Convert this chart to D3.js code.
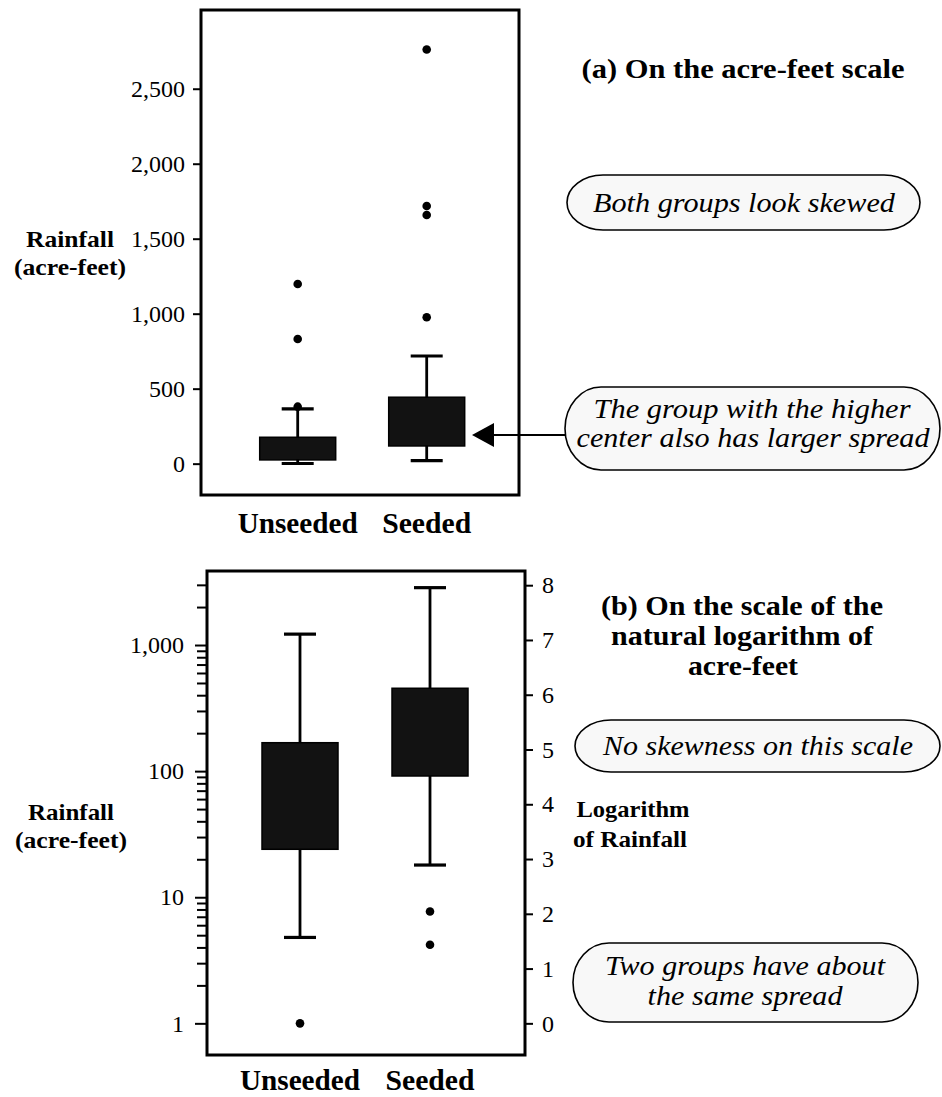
<!DOCTYPE html>
<html>
<head>
<meta charset="utf-8">
<script src="https://cdn.jsdelivr.net/npm/d3@7"></script>
<style>
  html, body { margin: 0; padding: 0; background: #fff; }
  svg { display: block; }
  svg text { font-family: 'Liberation Serif', 'Times New Roman', Times, serif; }
</style>
</head>
<body>
<svg id="chart" width="942" height="1097"></svg>
<script>
// ---------- data ----------
const groups = ["Unseeded", "Seeded"];

// (a) acre-feet scale
const acreLow = [1, 20];
const acreQ1 = [25, 118];
const acreQ3 = [176, 443];
const acreHigh = [365, 718];
const acreOutliers = [[380, 831, 1198], [976, 1658, 1718, 2762]];
const acreTicks = [0, 500, 1000, 1500, 2000, 2500];

// (b) log scale
const logLow = [4.8, 18];
const logQ1 = [24, 91.5];
const logQ3 = [168, 454];
const logHigh = [1220, 2850];
const logOutliers = [[1.0], [7.7, 4.2]];
const logTicks = [1, 10, 100, 1000];
const logMinorTicks = [2,3,4,5,6,7,8,9,20,30,40,50,60,70,80,90,200,300,400,500,600,700,800,900,2000,3000];
const lnTicks = [0, 1, 2, 3, 4, 5, 6, 7, 8];

// ---------- setup ----------
const svg = d3.select("#chart");
const BOX_W = 76, CAP_W = 32, DOT_R = 4.3, LW = 2.8;
const FILL = "#121212";

function drawBoxes(g, x, y, lo, q1, q3, hi, outs) {
  groups.forEach((grp, i) => {
    const cx = x(grp);
    g.append("line").attr("x1", cx).attr("x2", cx)
      .attr("y1", y(lo[i])).attr("y2", y(hi[i]))
      .attr("stroke", "#000").attr("stroke-width", LW);
    [lo[i], hi[i]].forEach(v => {
      g.append("line").attr("x1", cx - CAP_W / 2).attr("x2", cx + CAP_W / 2)
        .attr("y1", y(v)).attr("y2", y(v))
        .attr("stroke", "#000").attr("stroke-width", LW + 0.4);
    });
    g.append("rect").attr("x", cx - BOX_W / 2).attr("width", BOX_W)
      .attr("y", y(q3[i])).attr("height", y(q1[i]) - y(q3[i]))
      .attr("fill", FILL).attr("stroke", "#000").attr("stroke-width", 1.5);
    outs[i].forEach(v => {
      g.append("circle").attr("cx", cx).attr("cy", y(v)).attr("r", DOT_R).attr("fill", "#000");
    });
  });
}

function styleAxis(sel, size) {
  sel.select(".domain").remove();
  sel.selectAll(".tick line").attr("stroke", "#000").attr("stroke-width", 2);
  sel.selectAll(".tick text").attr("font-family", null).attr("font-size", size).attr("fill", "#000");
}

function frame(x0, y0, x1, y1) {
  svg.append("rect").attr("x", x0).attr("y", y0).attr("width", x1 - x0).attr("height", y1 - y0)
    .attr("fill", "none").attr("stroke", "#000").attr("stroke-width", 3);
}

function text(x, y, str, opts) {
  const t = svg.append("text").attr("x", x).attr("y", y).text(str)
    .attr("font-size", opts.size)
    .attr("text-anchor", opts.anchor || "middle")
    .attr("font-weight", opts.bold ? "bold" : "normal")
    .attr("font-style", opts.italic ? "italic" : "normal")
    .attr("fill", "#000");
  if (opts.len) t.attr("textLength", opts.len).attr("lengthAdjust", "spacingAndGlyphs");
  return t;
}

function callout(x0, y0, x1, y1) {
  const h = y1 - y0;
  svg.append("rect").attr("x", x0).attr("y", y0).attr("width", x1 - x0).attr("height", h)
    .attr("rx", 36).attr("ry", h / 2)
    .attr("fill", "#f8f8f8").attr("stroke", "#000").attr("stroke-width", 1.6);
}

// ---------- panel (a) ----------
const A = { left: 201, right: 519, top: 10, bottom: 495 };
const yA = d3.scaleLinear().domain([-209, 3025]).range([A.bottom, A.top]);
const xA = d3.scalePoint().domain(groups).range([297.7, 426.7]);

const gA = svg.append("g");
drawBoxes(gA, xA, yA, acreLow, acreQ1, acreQ3, acreHigh, acreOutliers);
frame(A.left, A.top, A.right, A.bottom);

const axA = svg.append("g").attr("transform", `translate(${A.left},0)`)
  .call(d3.axisLeft(yA).tickValues(acreTicks).tickFormat(d3.format(",")).tickSize(8).tickPadding(8));
styleAxis(axA, 24);

groups.forEach(grp => text(xA(grp), 533, grp, { size: 29, bold: true, len: grp === "Unseeded" ? 120 : 89 }));
text(70, 247, "Rainfall", { size: 23, bold: true, len: 88 });
text(70, 275, "(acre-feet)", { size: 23, bold: true, len: 112 });

// ---------- panel (b) ----------
const B = { left: 207, right: 525, top: 571, bottom: 1055 };
const yB = d3.scaleLog().domain([0.561, 3863]).range([B.bottom, B.top]);
const yLn = d3.scaleLinear().domain([Math.log(0.561), Math.log(3863)]).range([B.bottom, B.top]);
const xB = d3.scalePoint().domain(groups).range([300, 430]);

const gB = svg.append("g");
drawBoxes(gB, xB, yB, logLow, logQ1, logQ3, logHigh, logOutliers);
frame(B.left, B.top, B.right, B.bottom);

const axBminor = svg.append("g").attr("transform", `translate(${B.left},0)`)
  .call(d3.axisLeft(yB).tickValues(logMinorTicks).tickFormat("").tickSize(10));
styleAxis(axBminor, 24);
const axB = svg.append("g").attr("transform", `translate(${B.left},0)`)
  .call(d3.axisLeft(yB).tickValues(logTicks).tickFormat(d3.format(",")).tickSize(12).tickPadding(11));
styleAxis(axB, 24);
const axR = svg.append("g").attr("transform", `translate(${B.right},0)`)
  .call(d3.axisRight(yLn).tickValues(lnTicks).tickFormat(d3.format("d")).tickSize(8).tickPadding(9));
styleAxis(axR, 24);

groups.forEach(grp => text(xB(grp), 1090, grp, { size: 29, bold: true, len: grp === "Unseeded" ? 120 : 89 }));
text(71, 820, "Rainfall", { size: 23, bold: true, len: 86 });
text(71, 848, "(acre-feet)", { size: 23, bold: true, len: 112 });
text(633, 817, "Logarithm", { size: 24, bold: true, len: 113 });
text(630, 847, "of Rainfall", { size: 24, bold: true, len: 114 });

// ---------- annotations ----------
text(743, 78, "(a) On the acre-feet scale", { size: 28, bold: true, len: 323 });

callout(567, 175, 920, 230);
text(744, 212, "Both groups look skewed", { size: 27, italic: true, len: 302 });

callout(565, 387, 940, 470);
text(752, 418, "The group with the higher", { size: 27, italic: true, len: 317 });
text(753, 447, "center also has larger spread", { size: 27, italic: true, len: 353 });

const arrowY = 435;
svg.append("line").attr("x1", 565).attr("x2", 490).attr("y1", arrowY).attr("y2", arrowY)
  .attr("stroke", "#000").attr("stroke-width", 2);
svg.append("path").attr("d", `M472,${arrowY} L494,${arrowY - 12} L494,${arrowY + 12} Z`).attr("fill", "#000");

text(742, 615, "(b) On the scale of the", { size: 28, bold: true, len: 282 });
text(742, 645, "natural logarithm of", { size: 28, bold: true, len: 262 });
text(743, 675, "acre-feet", { size: 28, bold: true, len: 110 });

callout(575, 720, 940, 772);
text(758, 755, "No skewness on this scale", { size: 27, italic: true, len: 310 });

callout(573, 943, 918, 1022);
text(745, 975, "Two groups have about", { size: 27, italic: true, len: 280 });
text(745, 1005, "the same spread", { size: 27, italic: true, len: 195 });
</script>
</body>
</html>
